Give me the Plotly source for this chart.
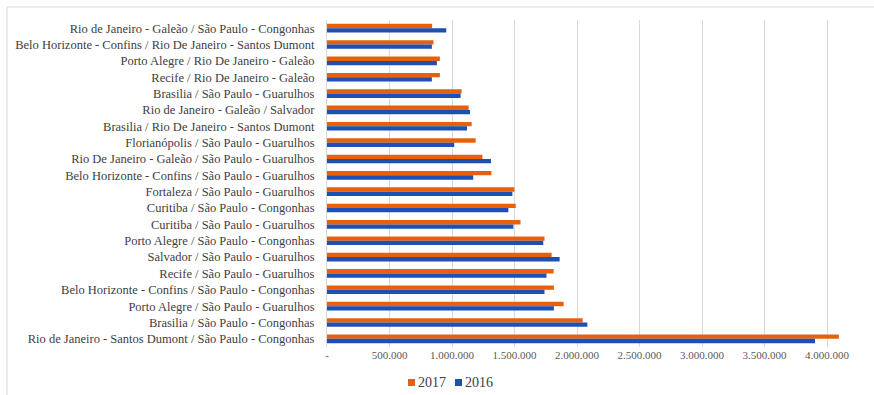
import plotly.graph_objects as go

# Routes, listed top to bottom
routes = [
    "Rio de Janeiro - Galeão / São Paulo - Congonhas",
    "Belo Horizonte - Confins / Rio De Janeiro - Santos Dumont",
    "Porto Alegre / Rio De Janeiro - Galeão",
    "Recife / Rio De Janeiro - Galeão",
    "Brasilia / São Paulo - Guarulhos",
    "Rio de Janeiro - Galeão / Salvador",
    "Brasilia / Rio De Janeiro - Santos Dumont",
    "Florianópolis / São Paulo - Guarulhos",
    "Rio De Janeiro - Galeão / São Paulo - Guarulhos",
    "Belo Horizonte - Confins / São Paulo - Guarulhos",
    "Fortaleza / São Paulo - Guarulhos",
    "Curitiba / São Paulo - Congonhas",
    "Curitiba / São Paulo - Guarulhos",
    "Porto Alegre / São Paulo - Congonhas",
    "Salvador / São Paulo - Guarulhos",
    "Recife / São Paulo - Guarulhos",
    "Belo Horizonte - Confins / São Paulo - Congonhas",
    "Porto Alegre / São Paulo - Guarulhos",
    "Brasilia / São Paulo - Congonhas",
    "Rio de Janeiro - Santos Dumont / São Paulo - Congonhas",
]

pax_2017 = [841000, 852000, 903000, 903000, 1077000, 1133000, 1157000, 1189000, 1243000, 1315000,
            1499000, 1510000, 1548000, 1740000, 1797000, 1813000, 1815000, 1893000, 2045000, 4095000]
pax_2016 = [954000, 839000, 879000, 839000, 1069000, 1144000, 1120000, 1018000, 1312000, 1170000,
            1483000, 1451000, 1491000, 1730000, 1861000, 1756000, 1740000, 1815000, 2083000, 3904000]

series_names = ["2017", "2016"]

tick_values = [0, 500000, 1000000, 1500000, 2000000, 2500000, 3000000, 3500000, 4000000]
tick_labels = ["-", "500.000", "1.000.000", "1.500.000", "2.000.000",
               "2.500.000", "3.000.000", "3.500.000", "4.000.000"]

ORANGE = "#E8600C"
BLUE = "#1E4FB2"
FONT = "Liberation Serif"
colors = [ORANGE, BLUE]

fig = go.Figure()
for name, vals, col in zip(series_names, [pax_2017, pax_2016], colors):
    fig.add_trace(go.Bar(name=name, y=routes, x=vals, orientation="h",
                         marker=dict(color=col, line=dict(width=0))))

W, H = 874, 395
ML, MR, MT, MB = 327, 17, 20, 48
pw = W - ML - MR
ph = H - MT - MB


def px_x(x):
    return (x - ML) / pw


def px_y(y):
    return (H - MB - y) / ph


shapes = [dict(type="rect", xref="paper", yref="paper",
               x0=px_x(7), x1=px_x(880), y0=px_y(400), y1=px_y(7),
               line=dict(color="#d9d9d9", width=1), layer="below")]

# Compact Excel-style legend: a small coloured square followed by the series name
legend_x = [408, 455]
annotations = []
for name, col, lx in zip(series_names, colors, legend_x):
    shapes.append(dict(type="rect", xref="paper", yref="paper",
                       x0=px_x(lx), x1=px_x(lx + 7), y0=px_y(386), y1=px_y(379),
                       fillcolor=col, line=dict(width=0)))
    annotations.append(dict(
        xref="paper", yref="paper", x=px_x(lx + 8), y=px_y(382),
        xanchor="left", yanchor="middle", showarrow=False,
        text=name, font=dict(family=FONT, size=14, color="#404040"),
    ))

fig.update_layout(
    width=W, height=H,
    margin=dict(l=ML, r=MR, t=MT, b=MB, pad=0, autoexpand=False),
    paper_bgcolor="white", plot_bgcolor="white",
    barmode="group", bargap=0.47, bargroupgap=0.0,
    font=dict(family=FONT, color="#404040"),
    showlegend=False,
    annotations=annotations,
    shapes=shapes,
    xaxis=dict(range=[0, 4240000], tickvals=tick_values, ticktext=tick_labels,
               showgrid=True, gridcolor="#d9d9d9", gridwidth=1,
               zeroline=False, showline=False, ticks="",
               tickfont=dict(family=FONT, size=11, color="#595959")),
    yaxis=dict(autorange="reversed", showgrid=False, zeroline=False,
               showline=True, linecolor="#d9d9d9", linewidth=1, ticks="",
               ticklabelstandoff=9,
               tickfont=dict(family=FONT, size=12.5, color="#404040")),
)

fig.write_html("out.html")
